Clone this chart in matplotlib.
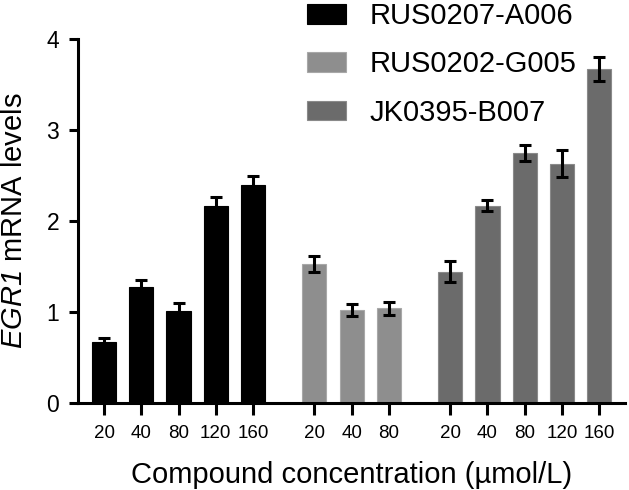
import numpy as np
import matplotlib
matplotlib.use('Agg')
import matplotlib.pyplot as plt

plt.rcParams['font.family'] = ['Liberation Sans', 'DejaVu Sans']
# italic gene name, digits included
plt.rcParams['mathtext.fontset'] = 'custom'
plt.rcParams['mathtext.rm'] = 'Liberation Sans:italic'
plt.rcParams['mathtext.it'] = 'Liberation Sans:italic'

# data
compounds = ['RUS0207-A006', 'RUS0202-G005', 'JK0395-B007']
concs_a = ['20', '40', '80', '120', '160']
concs_g = ['20', '40', '80']
concs_b = ['20', '40', '80', '120', '160']
vals_a = [0.67, 1.27, 1.01, 2.16, 2.40]
errs_a = [0.04, 0.08, 0.09, 0.10, 0.09]
vals_g = [1.53, 1.02, 1.04]
errs_g = [0.09, 0.065, 0.07]
vals_b = [1.44, 2.17, 2.75, 2.63, 3.67]
errs_b = [0.115, 0.065, 0.09, 0.145, 0.13]

colors = ['#000000', '#8e8e8e', '#6b6b6b']
edges = ['#000000', '#a8a8a8', '#8a8a8a']

fig = plt.figure(figsize=(6.29, 4.9), dpi=100)
ax = fig.add_axes([0.124, 0.1776, 0.870, 0.7428])

gap = 1.65
x_a = np.arange(len(vals_a))
x_g = x_a[-1] + gap + np.arange(len(vals_g))
x_b = x_g[-1] + gap + np.arange(len(vals_b))

groups = [(x_a, vals_a, errs_a), (x_g, vals_g, errs_g), (x_b, vals_b, errs_b)]
for (xs, vs, es), name, c, ec in zip(groups, compounds, colors, edges):
    ax.bar(xs, vs, width=0.65, color=c, edgecolor=ec, linewidth=0.8, label=name, zorder=2)
    ax.errorbar(xs, vs, yerr=es, fmt='none', ecolor='black', elinewidth=2.2,
                capsize=4.5, capthick=2.2, zorder=3)

ax.set_xlim(-0.7, 14.0)
ax.set_ylim(0, 4)
ax.set_yticks([0, 1, 2, 3, 4])
ax.set_xticks(np.concatenate([x_a, x_g, x_b]))
ax.set_xticklabels(concs_a + concs_g + concs_b, fontsize=13.5)

for s in ['top', 'right']:
    ax.spines[s].set_visible(False)
for s in ['left', 'bottom']:
    ax.spines[s].set_linewidth(2.2)
ax.tick_params(axis='y', length=6.5, width=2.2, pad=7, labelsize=16.5)
ax.tick_params(axis='x', length=8.5, width=2.2, pad=7)

ax.set_ylabel(r'$\mathrm{EGR1}$ mRNA levels', fontsize=21, labelpad=13)
ax.set_xlabel('Compound concentration (\u00b5mol/L)', fontsize=21, labelpad=14)

fig.legend(loc='upper left', bbox_to_anchor=(307 / 629, 1 - 2 / 490), frameon=False,
           fontsize=21, handlelength=1.34, handleheight=0.66, handletextpad=0.8,
           labelspacing=0.7, borderpad=0, borderaxespad=0)

fig.savefig('out.png', dpi=100)
